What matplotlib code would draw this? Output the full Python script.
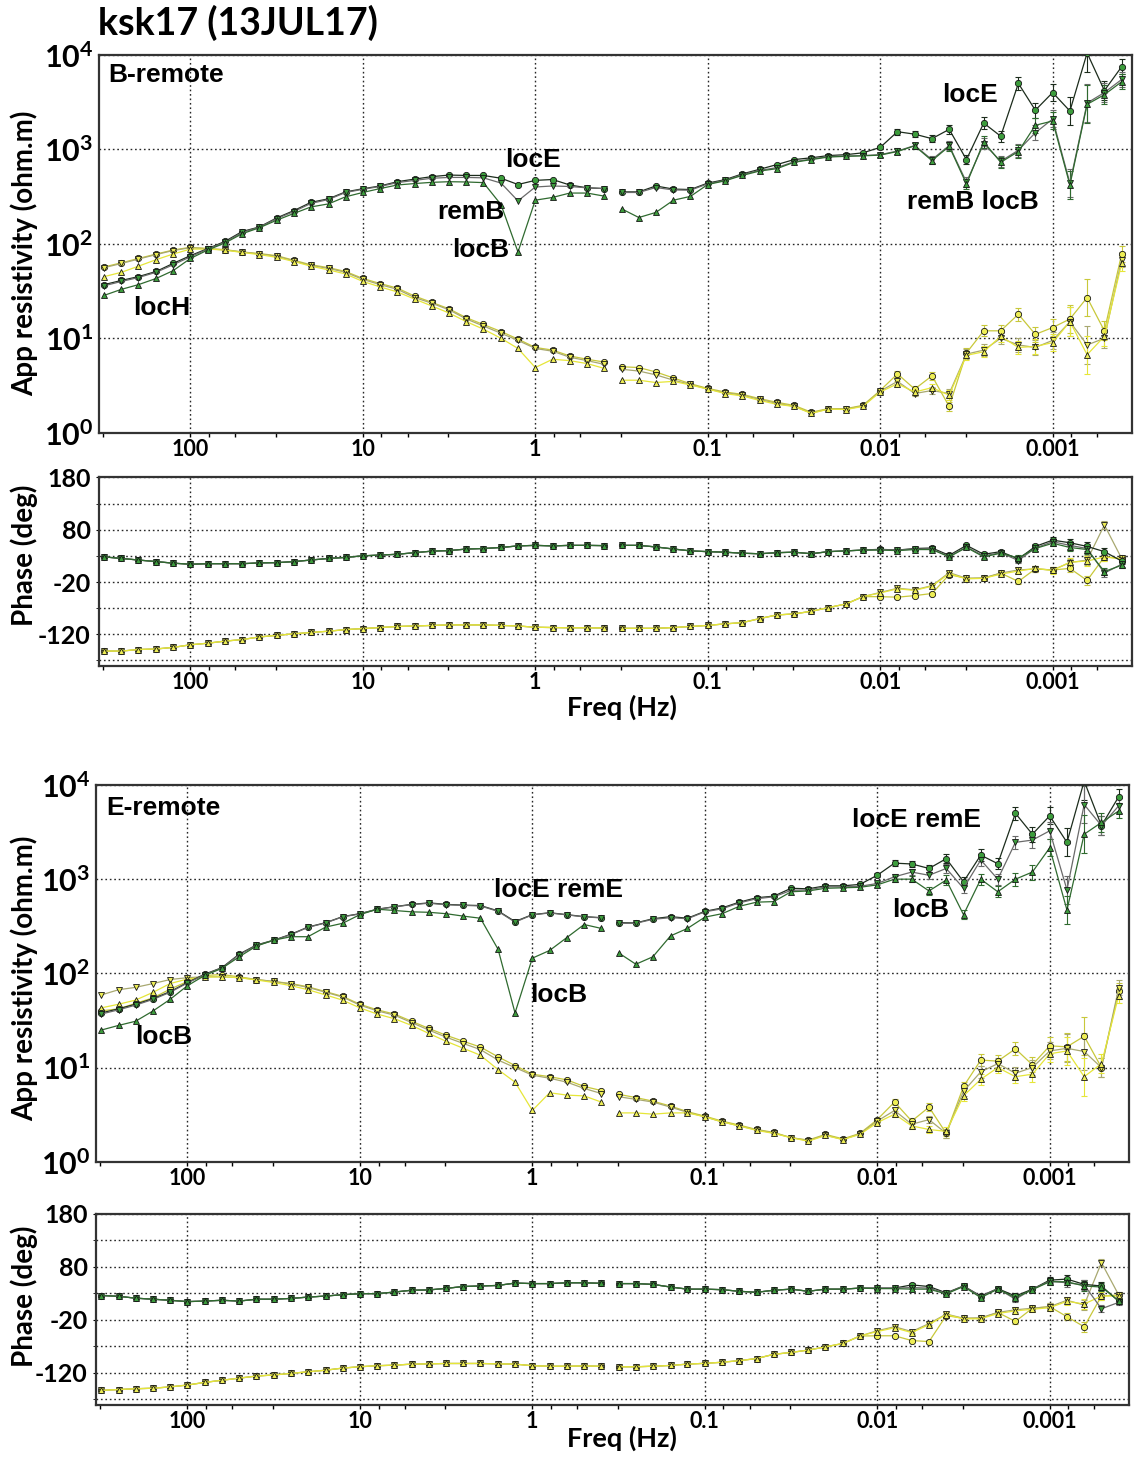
import numpy as np
import matplotlib
matplotlib.use("Agg")
import matplotlib.pyplot as plt  # noqa: E402
from matplotlib.ticker import (FixedLocator, FuncFormatter,  # noqa: E402
                               NullFormatter, NullLocator)

# ---------------------------------------------------------------- data ---
# frequencies (Hz), high to low; the long-period band starts at BAND_SPLIT
FREQ = [
    316, 251, 200, 158, 126, 100, 79.4, 63.1, 50.1, 39.8,
    31.6, 25.1, 20.0, 15.8, 12.6, 10.0, 7.94, 6.31, 5.01, 3.98,
    3.16, 2.51, 2.00, 1.58, 1.26, 1.00, 0.794, 0.631, 0.501, 0.398,
    0.316, 0.251, 0.200, 0.158, 0.126, 0.100, 0.0794, 0.0631, 0.0501, 0.0398,
    0.0316, 0.0251, 0.0200, 0.0158, 0.0126, 0.0100, 0.00794, 0.00631,
    0.00501, 0.00398,
    0.00316, 0.00251, 0.00200, 0.00158, 0.00126, 0.00100, 0.000794,
    0.000631, 0.000501, 0.000398,
]
BAND_SPLIT = 30

# error bars on the last 15 periods (shared by all curves)
RHO_ERR_DEX = [0.02, 0.03, 0.03, 0.04, 0.05, 0.05, 0.06, 0.06, 0.07, 0.08,
               0.09, 0.15, 0.2, 0.1, 0.08]
PHS_ERR_DEG = [2, 2, 3, 3, 3, 3, 4, 4, 5, 5, 6, 7, 9, 7, 5]

# ---- B-remote: apparent resistivity (ohm.m)
B_RHO_XY_LOCE = [
    37, 41, 45, 51, 62, 75, 89, 106, 135, 151,
    188, 225, 275, 300, 355, 383, 410, 455, 485, 515,
    535, 530, 530, 495, 425, 470, 480, 420, 392, 385,
    355, 355, 410, 380, 376, 440, 478, 550, 615, 690,
    780, 815, 860, 880, 920, 1050, 1540, 1450, 1300, 1630,
    780, 1900, 1380, 5000, 2600, 4000, 2550, 10500, 4200, 7500,
]
B_RHO_XY_REMB = [
    36, 40, 44, 50, 60, 73, 88, 104, 132, 150,
    185, 220, 268, 295, 350, 378, 405, 445, 470, 495,
    505, 505, 500, 440, 285, 400, 410, 405, 392, 385,
    350, 350, 395, 372, 370, 432, 470, 540, 600, 640,
    740, 790, 840, 850, 860, 880, 960, 1100, 780, 1100,
    450, 1150, 750, 980, 1500, 2100, 440, 3100, 4000, 5500,
]
B_RHO_XY_LOCB = [
    28.5, 33, 37, 43, 52, 70, 86, 102, 128, 148,
    178, 210, 246, 265, 315, 350, 385, 420, 435, 448,
    455, 452, 445, 260, 82, 290, 310, 345, 345, 320,
    235, 190, 215, 290, 318, 425, 465, 530, 590, 625,
    730, 780, 830, 845, 855, 870, 950, 1090, 760, 1080,
    430, 1200, 730, 950, 1800, 2000, 420, 3000, 3800, 5200,
]
B_RHO_YX_LOCE = [
    57, 63, 70, 78, 86, 92, 89, 87, 82, 79,
    75, 67, 60, 56, 51, 43, 38, 34, 28, 24,
    20.5, 16.5, 14, 11.8, 9.8, 8.0, 7.5, 6.5, 6.0, 5.6,
    5.0, 4.9, 4.4, 3.8, 3.3, 2.95, 2.7, 2.55, 2.3, 2.1,
    1.95, 1.65, 1.8, 1.8, 1.95, 2.8, 4.2, 2.9, 4.0, 1.9,
    7.0, 12, 12, 18, 11, 13, 16, 27, 12, 78,
]
B_RHO_YX_REMB = [
    56, 62, 69, 77, 85, 91, 89, 86, 82, 78,
    74, 66, 59, 55, 50, 42, 37, 33, 27, 23.5,
    20, 16, 13.5, 11.3, 9.5, 7.8, 7.3, 6.3, 5.8, 5.3,
    4.7, 4.5, 4.1, 3.6, 3.25, 2.9, 2.65, 2.5, 2.25, 2.05,
    1.9, 1.62, 1.78, 1.78, 1.92, 2.75, 3.5, 2.6, 2.8, 2.6,
    6.8, 7.5, 10, 8.5, 8.0, 9.5, 15, 8.5, 10, 68,
]
B_RHO_YX_LOCB = [
    45, 50, 58, 68, 78, 88, 88, 86, 81, 77,
    72, 65, 58, 53, 48, 40, 35, 31, 26, 22,
    18.5, 15, 12.5, 10, 7.8, 4.9, 6.0, 5.8, 5.4, 4.8,
    3.6, 3.6, 3.4, 3.5, 3.2, 2.9, 2.6, 2.45, 2.2, 2.0,
    1.9, 1.6, 1.78, 1.76, 1.9, 2.7, 3.3, 2.7, 3.0, 2.5,
    6.6, 7.2, 10.5, 8.0, 8.2, 9.0, 15, 6.7, 10.5, 62,
]

# ---- B-remote: phase (deg)
B_PHS_XY_LOCE = [
    28, 25, 22, 19, 16, 14, 15, 15, 15, 16.5,
    17, 19, 22, 25, 27, 30, 31.5, 33, 36, 39,
    40, 43, 44, 46, 49, 50, 49, 50, 50, 49.5,
    50, 50, 47, 43, 39.5, 38, 37, 35, 34, 36,
    37, 34, 38, 39.5, 41, 42.5, 41, 44, 45, 31,
    50, 33, 38, 24, 48, 60, 55, 48, 38, 20,
]
B_PHS_XY_REMB = [
    28, 25, 22, 19, 16, 14, 15, 15, 15, 16.5,
    17, 19, 22, 25, 27, 30, 31.5, 33, 36, 39,
    40, 43, 44, 46, 49, 50, 49, 50, 50, 49.5,
    50, 50, 47, 43, 39.5, 38, 37, 35, 34, 36,
    37, 34, 38, 39.5, 41, 42, 41, 43, 43, 29,
    47, 30, 36, 21, 45, 57, 50, 44, -3, 14,
]
B_PHS_XY_LOCB = [
    28, 25, 22, 19, 16, 14, 15, 15, 15, 16.5,
    17, 19, 22, 25, 27, 30, 31.5, 33, 36, 39,
    40, 43, 44, 46, 49, 50, 49, 50, 50, 49.5,
    50, 50, 47, 43, 39.5, 38, 37, 35, 34, 36,
    37, 34, 38, 39.5, 41, 41, 40, 42, 42, 28,
    46, 28, 35, 26, 44, 54, 46, 42, 0, 12,
]
B_PHS_YX_LOCE = [
    -152, -152, -149, -148, -145, -140, -137, -133, -130, -125,
    -122, -119, -116.5, -114, -111, -109, -107, -105, -104, -103,
    -102, -102, -102, -103, -104, -106.5, -107, -107.5, -107.5, -108,
    -108.5, -108.5, -108.5, -107, -105, -103, -100, -97.7, -90, -83,
    -81, -76, -69, -62, -48, -48, -49, -46, -42, -6,
    -13, -13, -3, -19, 5, 3, 6, -17, 28, 25,
]
B_PHS_YX_REMB = [
    -152, -152, -149, -148, -145, -140, -137, -133, -130, -125,
    -122, -119, -116.5, -114, -111, -109, -107, -105, -104, -103,
    -102, -102, -102, -103, -104, -106.5, -107, -107.5, -107.5, -108,
    -108.5, -108.5, -108.5, -107, -105, -103, -100, -97.7, -90, -83,
    -81, -76, -69, -62, -48, -40, -32, -35, -27, -2,
    -13, -12, -3, 3, 5, 3, 17, 22, 89, 25,
]
B_PHS_YX_LOCB = [
    -152, -152, -149, -148, -145, -140, -137, -133, -130, -125,
    -122, -119, -116.5, -114, -111, -109, -107, -105, -104, -103,
    -102, -102, -102, -103, -104, -106.5, -107, -107.5, -107.5, -108,
    -108.5, -108.5, -108.5, -107, -105, -103, -100, -97.7, -90, -83,
    -81, -76, -69, -62, -48, -41, -33, -36, -28, -4,
    -14, -13, -5, 1, 6, 2, 18, 20, 28, 24,
]

# ---- E-remote: apparent resistivity (ohm.m)
E_RHO_XY_LOCE = [
    38, 42, 47, 54, 64, 80, 98, 115, 160, 200,
    225, 260, 310, 345, 400, 430, 480, 510, 540, 560,
    540, 530, 525, 460, 355, 420, 440, 420, 400, 390,
    345, 343, 380, 400, 385, 455, 495, 570, 635, 660,
    800, 790, 850, 850, 880, 1100, 1480, 1450, 1300, 1650,
    940, 1800, 1460, 5000, 3000, 4700, 2460, 11000, 3700, 7500,
]
E_RHO_XY_REME = [
    37, 41, 46, 53, 63, 79, 97, 114, 158, 198,
    224, 258, 308, 343, 398, 428, 478, 508, 537, 555,
    535, 527, 520, 455, 350, 418, 438, 418, 398, 388,
    340, 340, 375, 390, 380, 450, 485, 560, 620, 650,
    760, 770, 830, 830, 840, 900, 1060, 1190, 1100, 1300,
    800, 1600, 1000, 2460, 2600, 3260, 770, 6200, 3700, 6000,
]
E_RHO_XY_LOCB = [
    25, 28, 31, 40, 53, 74, 95, 113, 150, 195,
    225, 245, 245, 310, 340, 420, 480, 465, 450, 445,
    430, 405, 385, 180, 38, 145, 175, 240, 330, 300,
    165, 125, 150, 250, 300, 395, 430, 515, 570, 578,
    735, 750, 800, 810, 820, 870, 1000, 1000, 750, 980,
    420, 1000, 735, 1000, 1190, 2150, 470, 3000, 4000, 5300,
]
E_RHO_YX_LOCE = [
    40, 42, 48, 55, 68, 82, 95, 97, 92, 86,
    82, 78, 72, 64, 57, 47, 41, 37, 31, 26,
    22, 19, 16.5, 13, 10.5, 8.5, 8.0, 7.4, 6.3, 5.7,
    5.2, 4.8, 4.4, 3.9, 3.4, 3.05, 2.7, 2.45, 2.2, 2.05,
    1.8, 1.7, 1.95, 1.75, 2.0, 2.8, 4.3, 2.7, 3.8, 2.0,
    6.3, 12, 11.7, 15.8, 10.7, 17, 16.6, 21.5, 10, 65,
]
E_RHO_YX_REME = [
    59, 67, 71, 78, 86, 90, 92, 92, 90, 86,
    82, 77, 71, 63, 56, 46, 40, 36, 30, 25,
    21, 18, 15.5, 12, 10, 8.3, 7.7, 7.0, 6.0, 5.3,
    4.9, 4.6, 4.3, 3.8, 3.35, 3.0, 2.65, 2.4, 2.18, 2.02,
    1.8, 1.68, 1.92, 1.72, 1.98, 2.7, 3.5, 2.5, 2.8, 2.0,
    5.6, 9, 11, 8.7, 10, 15, 16, 14.8, 10, 70,
]
E_RHO_YX_LOCB = [
    43, 47, 52, 63, 78, 87, 91, 92, 90, 85,
    80, 74, 67, 59, 52, 43, 37, 33, 28, 23,
    19, 16, 13.5, 9.5, 7.0, 3.5, 5.4, 5.1, 5.0, 4.3,
    3.3, 3.3, 3.2, 3.3, 3.3, 3.0, 2.65, 2.4, 2.15, 2.0,
    1.8, 1.65, 1.9, 1.72, 1.95, 2.6, 3.2, 2.4, 2.2, 2.1,
    5.0, 7.5, 10, 8.0, 8.5, 14, 15, 8.0, 11, 58,
]

# ---- E-remote: phase (deg)
E_PHS_XY_LOCE = [
    26, 24.5, 21, 19, 17, 14.5, 15.5, 17, 15.5, 19,
    19, 20.5, 23, 25, 27.5, 29.5, 29.5, 32.5, 36, 36.5,
    39.5, 43, 44, 45, 49.5, 48.5, 48.5, 50, 50, 49,
    48.5, 48.5, 47, 42, 38, 38, 37, 34, 32, 36,
    38, 34, 38, 38, 40, 40, 40, 46, 43, 31,
    44, 25, 39, 25, 38, 55, 57, 47, 44, 15,
]
E_PHS_XY_REME = [
    26, 24.5, 21, 19, 17, 14.5, 15.5, 17, 15.5, 19,
    19, 20.5, 23, 25, 27.5, 29.5, 29.5, 32.5, 36, 36.5,
    39.5, 43, 44, 45, 49.5, 48.5, 48.5, 50, 50, 49,
    48.5, 48.5, 47, 42, 38, 38, 37, 34, 32, 36,
    38, 34, 38, 38, 40, 40, 40, 41, 40, 30,
    44, 24, 39, 19, 38, 53, 50, 46, 1, 13,
]
E_PHS_XY_LOCB = [
    26, 24.5, 21, 19, 17, 14.5, 15.5, 17, 15.5, 19,
    19, 20.5, 23, 25, 27.5, 29.5, 29.5, 32.5, 36, 36.5,
    39.5, 43, 44, 45, 49.5, 48.5, 48.5, 50, 50, 49,
    48.5, 48.5, 47, 42, 38, 38, 37, 34, 32, 36,
    38, 34, 38, 38, 40, 39, 39, 38, 38, 29,
    43, 22, 38, 22, 37, 52, 52, 44, 42, 16,
]
E_PHS_YX_LOCE = [
    -153, -151.5, -150, -149, -146.5, -143, -138, -134, -130, -126,
    -124, -121, -118, -115, -111, -108.5, -106.5, -105.5, -103.5, -103,
    -102.3, -102.3, -102.3, -103, -103.5, -106.5, -107.5, -107.5, -107, -107.5,
    -108.5, -108.5, -107.5, -106, -103.5, -102, -100, -97, -93, -85,
    -81.5, -77, -71, -64.5, -50.5, -50, -50, -59, -61, -12,
    -17, -17, -6, -23, 2, 5, -14, -33, 25, 27,
]
E_PHS_YX_REME = [
    -153, -151.5, -150, -149, -146.5, -143, -138, -134, -130, -126,
    -124, -121, -118, -115, -111, -108.5, -106.5, -105.5, -103.5, -103,
    -102.3, -102.3, -102.3, -103, -103.5, -106.5, -107.5, -107.5, -107, -107.5,
    -108.5, -108.5, -107.5, -106, -103.5, -102, -100, -97, -93, -85,
    -81.5, -77, -71, -64.5, -50.5, -40.5, -33, -42, -27, -9,
    -17, -16, -6, -1, 2, 5, 17, 8, 88, 27,
]
E_PHS_YX_LOCB = [
    -153, -151.5, -150, -149, -146.5, -143, -138, -134, -130, -126,
    -124, -121, -118, -115, -111, -108.5, -106.5, -105.5, -103.5, -103,
    -102.3, -102.3, -102.3, -103, -103.5, -106.5, -107.5, -107.5, -107, -107.5,
    -108.5, -108.5, -107.5, -106, -103.5, -102, -100, -97, -93, -85,
    -81.5, -77, -71, -64.5, -50.5, -42, -35, -44, -29, -10,
    -18, -18, -8, -3, 0, 3, 15, 10, 25, 25,
]

TITLE = "ksk17 (13JUL17)"
DECADES = [100, 10, 1, 0.1, 0.01, 0.001]

# text labels on the figure: (text, left px, centre-y px)
NOTES = [
    ("B-remote", 108, 75), ("locE", 505, 160), ("remB", 437, 212),
    ("locB", 452, 250), ("locH", 133, 308), ("locE", 942, 95),
    ("remB locB", 907, 202),
    ("E-remote", 106, 808), ("locE remE", 494, 890), ("locB", 530, 995),
    ("locB", 135, 1037), ("locE remE", 852, 820), ("locB", 892, 910),
]

# ---------------------------------------------------------------- style ---
W_PX, H_PX = 1134, 1458
XY_FACE, YX_FACE = "#3c9c3c", "#eeee55"
XY_LINES = ["#1c2c1c", "#6a6a6a", "#2f6a2f"]
YX_LINES = ["#c8c83a", "#a8a870", "#e6e638"]
MARKERS = ["o", "v", "^"]
GRID = dict(linestyle=(0, (1.2, 2.0)), color="#262626", linewidth=1.0)
YLABEL_RIGHT_PX = 38   # right edge of the rotated y-axis titles

plt.rcParams["font.family"] = ["Lato", "DejaVu Sans"]
plt.rcParams["font.weight"] = "bold"
plt.rcParams["axes.labelweight"] = "bold"
plt.rcParams["mathtext.fontset"] = "custom"
plt.rcParams["mathtext.bf"] = "Lato:bold"
plt.rcParams["mathtext.rm"] = "Lato:bold"
plt.rcParams["mathtext.default"] = "bf"


def _fig_xy(x_px, y_px):
    return x_px / W_PX, 1.0 - y_px / H_PX


def _draw(ax, vals, k, face, lines, log_err):
    f = np.asarray(FREQ, dtype=float)
    v = np.asarray(vals, dtype=float)
    assert len(v) == len(f)
    for sl in (slice(0, BAND_SPLIT), slice(BAND_SPLIT, None)):
        ax.plot(f[sl], v[sl], color=lines[k], lw=0.9, marker=MARKERS[k],
                ms=4.5, mfc=face, mec="#151515", mew=0.6, zorder=3)
    n = len(RHO_ERR_DEX)
    ft, vt = f[-n:], v[-n:]
    if log_err:
        e = np.asarray(RHO_ERR_DEX)
        yerr = [vt - vt / 10 ** e, vt * 10 ** e - vt]
    else:
        e = np.asarray(PHS_ERR_DEG, dtype=float)
        yerr = [e, e]
    ax.errorbar(ft, vt, yerr=yerr, fmt="none", ecolor=lines[k],
                elinewidth=0.8, capsize=2.2, capthick=0.8, zorder=2)


def _style(ax, phase):
    ax.set_xscale("log")
    ax.set_xlim(10 ** 2.53, 10 ** -3.46)
    ax.xaxis.set_major_locator(FixedLocator(DECADES))
    ax.xaxis.set_major_formatter(FuncFormatter(lambda v, p: f"{v:g}"))
    minor = [d * m for d in [1000] + DECADES for m in (0.78, 0.55, 0.32)]
    ax.xaxis.set_minor_locator(FixedLocator(minor))
    ax.xaxis.set_minor_formatter(NullFormatter())
    ax.grid(True, which="major", axis="x", **GRID)
    ax.tick_params(axis="x", which="both", direction="out", length=3,
                   width=1.0, pad=1.5, labelsize=15.5)
    if phase:
        ax.set_ylim(-180, 180)
        ax.yaxis.set_major_locator(FixedLocator([180, 80, -20, -120]))
        ax.yaxis.set_major_formatter(FuncFormatter(lambda v, p: f"{v:.0f}"))
        ax.yaxis.set_minor_locator(FixedLocator([130, 30, -70, -170]))
        ax.grid(True, which="both", axis="y", **GRID)
        ax.tick_params(axis="y", which="both", length=2, pad=4,
                       labelsize=18)
    else:
        ax.set_yscale("log")
        ax.set_ylim(1, 1e4)
        ax.yaxis.set_major_locator(FixedLocator([1, 10, 100, 1000, 10000]))
        ax.yaxis.set_major_formatter(FuncFormatter(
            lambda v, p: r"$10^{%d}$" % round(np.log10(v))))
        ax.yaxis.set_minor_locator(NullLocator())
        ax.grid(True, which="major", axis="y", **GRID)
        ax.tick_params(axis="y", which="both", length=0, pad=4,
                       labelsize=22)
    for sp in ax.spines.values():
        sp.set_linewidth(1.6)
        sp.set_color("#333333")


def _panel(fig, rho_rect, phs_rect, rho, phs, label_y):
    ax_r = fig.add_axes(rho_rect)
    ax_p = fig.add_axes(phs_rect)
    for ax, series, is_phase in ((ax_r, rho, False), (ax_p, phs, True)):
        yx, xy = series
        for k, vals in enumerate(yx):
            _draw(ax, vals, k, YX_FACE, YX_LINES, not is_phase)
        for k, vals in enumerate(xy):
            _draw(ax, vals, k, XY_FACE, XY_LINES, not is_phase)
        _style(ax, is_phase)
    # put the rotated titles at the same figure x in both panels
    lab_x = (YLABEL_RIGHT_PX / W_PX - rho_rect[0]) / rho_rect[2]
    ax_r.set_ylabel("App resistivity (ohm.m)", fontsize=20)
    ax_r.yaxis.set_label_coords(lab_x, label_y[0])
    ax_p.set_ylabel("Phase (deg)", fontsize=20)
    ax_p.yaxis.set_label_coords(lab_x, label_y[1])
    return ax_r, ax_p


def main():
    fig = plt.figure(figsize=(W_PX / 100, H_PX / 100), dpi=100)

    _panel(fig, [0.0873, 0.7032, 0.9109, 0.2591],
           [0.0873, 0.5434, 0.9109, 0.1292],
           ((B_RHO_YX_LOCE, B_RHO_YX_REMB, B_RHO_YX_LOCB),
            (B_RHO_XY_LOCE, B_RHO_XY_REMB, B_RHO_XY_LOCB)),
           ((B_PHS_YX_LOCE, B_PHS_YX_REMB, B_PHS_YX_LOCB),
            (B_PHS_XY_LOCE, B_PHS_XY_REMB, B_PHS_XY_LOCB)),
           (0.474, 0.587))
    _panel(fig, [0.0847, 0.2032, 0.9109, 0.2584],
           [0.0847, 0.0366, 0.9109, 0.1308],
           ((E_RHO_YX_LOCE, E_RHO_YX_REME, E_RHO_YX_LOCB),
            (E_RHO_XY_LOCE, E_RHO_XY_REME, E_RHO_XY_LOCB)),
           ((E_PHS_YX_LOCE, E_PHS_YX_REME, E_PHS_YX_LOCB),
            (E_PHS_XY_LOCE, E_PHS_XY_REME, E_PHS_XY_LOCB)),
           (0.488, 0.568))

    fig.text(*_fig_xy(98, 23), TITLE, fontsize=27, ha="left", va="center")
    for y_px in (707, 1438):
        fig.text(*_fig_xy(622, y_px), "Freq (Hz)", fontsize=19.5,
                 ha="center", va="center")
    for txt, x_px, y_px in NOTES:
        fig.text(*_fig_xy(x_px, y_px), txt, fontsize=19, ha="left",
                 va="center", family=["Liberation Sans", "DejaVu Sans"],
                 fontweight="bold")

    fig.savefig("out.png", dpi=100)
    plt.close(fig)


if __name__ == "__main__":
    main()
